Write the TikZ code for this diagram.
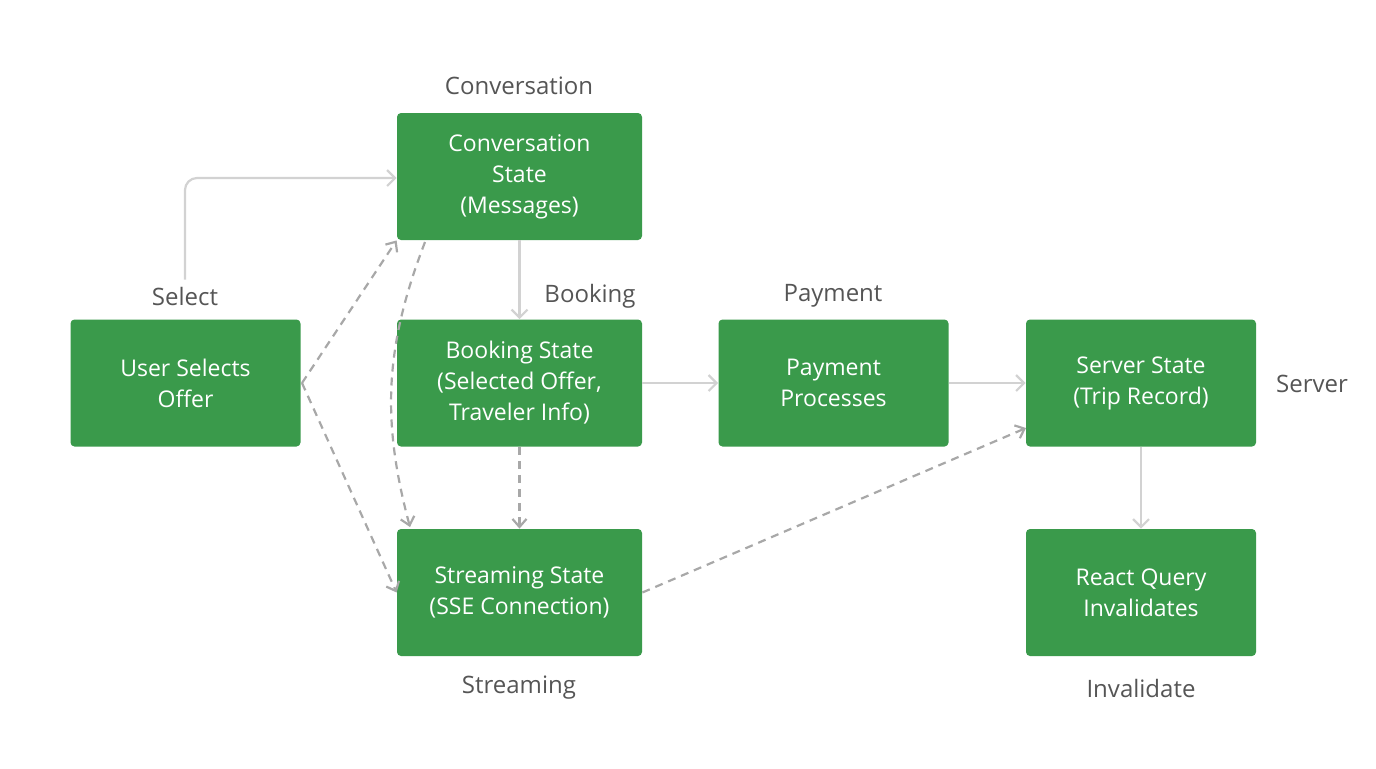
\documentclass[tikz,border=0pt]{standalone}
\usepackage{fontspec}
\setmainfont{Open Sans}
\usetikzlibrary{%
    arrows.meta,
    positioning
}
\definecolor{boxgreen}{HTML}{3A9A4B}
\definecolor{linegray}{HTML}{D2D2D2}
\definecolor{dashgray}{HTML}{A8A8A8}
\definecolor{labelgray}{HTML}{555555}

\begin{document}
\begin{tikzpicture}[x=0.5pt, y=-0.5pt,
    state/.style={draw=none, fill=boxgreen, rounded corners=2pt, text=white,
                  minimum height=63.5pt, align=center, font=\fontsize{11.5}{15.5}\selectfont},
    narrow/.style={state, minimum width=115pt},
    wide/.style={state, minimum width=122.5pt},
    tag/.style={text=labelgray, font=\fontsize{12}{15}\selectfont},
    flow/.style={draw=linegray, line width=1.1pt, -{Straight Barb[length=4pt, width=8pt]}},
    link/.style={draw=dashgray, line width=1.1pt, dash pattern=on 4pt off 3pt, -{Straight Barb[length=4pt, width=7pt]}}
]
    \useasboundingbox (0,0) rectangle (1376,768);

    \node (user)   [narrow] at (185.5,383)  {User Selects\\Offer};
    \node (conv)   [wide]   at (519.5,176.5) {Conversation\\State\\(Messages)};
    \node (book)   [wide]   at (519.5,383)  {Booking State\\(Selected Offer,\\Traveler Info)};
    \node (pay)    [narrow] at (833.5,383)  {Payment\\Processes};
    \node (server) [narrow] at (1141,383)   {Server State\\(Trip Record)};
    \node (stream) [wide]   at (519.5,592.5) {Streaming State\\(SSE Connection)};
    \node (query)  [narrow] at (1141,592.5) {React Query\\Invalidates};

    \node (lconv)   [tag] at (519,86)   {Conversation};
    \node (lselect) [tag] at (185,296)  {Select};
    \node (lbook)   [tag] at (590,296)  {Booking};
    \node (lpay)    [tag] at (833,296)  {Payment};
    \node (lserver) [tag] at (1312,384) {Server};
    \node (lstream) [tag] at (519,688)  {Streaming};
    \node (lquery)  [tag] at (1141,688) {Invalidate};

    \coordinate (fork) at (302,383);
    \coordinate (convout) at (425,242);
    \coordinate (streamin) at (410,527);
    \coordinate (serverin) at (1026,428);

    % solid flow
    \draw [flow, rounded corners=6pt] (lselect.north) -- (185,178) -- (conv.west |- 0,178);
    \foreach \Source/\Target in {%
        conv/book,
        book/pay,
        pay/server,
        server/query%
    }
    \draw [flow] (\Source) -- (\Target);

    % dashed links
    \draw [link] (book) -- (stream);
    \draw [link] (fork) -- (conv.south west);
    \draw [link] (fork) -- (stream.west);
    \draw [link] (convout) to[bend right=18] (streamin);
    \draw [link] (stream.east) -- (serverin);
\end{tikzpicture}
\end{document}
